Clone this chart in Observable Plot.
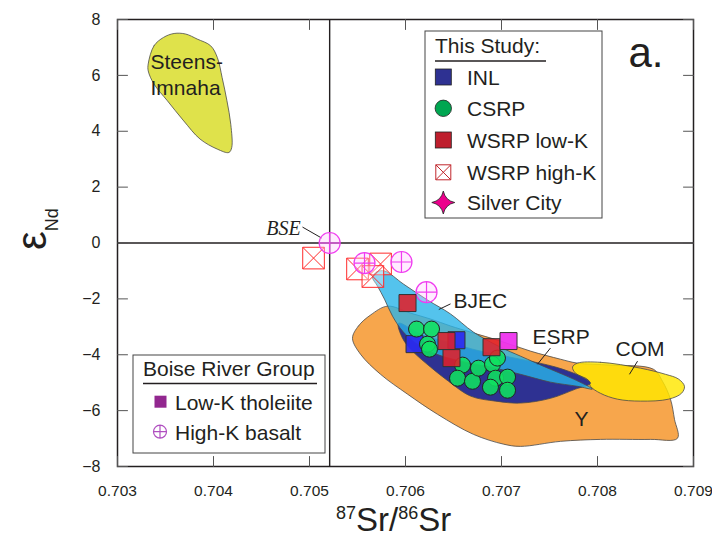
<!DOCTYPE html>
<html>
<head>
<meta charset="utf-8">
<script src="https://cdn.jsdelivr.net/npm/d3@7"></script>
<script src="https://cdn.jsdelivr.net/npm/@observablehq/plot@0.6"></script>
<style>
  body { margin: 0; background: #fff; }
  #chart { width: 712px; height: 538px; }
</style>
</head>
<body>
<div id="chart"></div>
<script>
const FONT = "'Liberation Sans', Arial, Helvetica, sans-serif";
const INK = "#231f20";

// Axis ticks
const xTicks = [0.703, 0.704, 0.705, 0.706, 0.707, 0.708, 0.709];
const yTicks = [-8, -6, -4, -2, 0, 2, 4, 6, 8];

// Bulk Silicate Earth reference (87Sr/86Sr, eNd)
const bse = [[0.70521, 0.0]];

// This study
const inl = [[0.706094, -3.62], [0.706531, -3.48]];
const csrp = [
  [0.706115, -3.08], [0.706271, -3.08], [0.706229, -3.62], [0.706250, -3.80],
  [0.706594, -4.37], [0.706542, -4.84], [0.706698, -4.95], [0.706760, -4.48],
  [0.706906, -4.34], [0.706958, -4.12], [0.706938, -4.84], [0.707063, -4.80],
  [0.706885, -5.16], [0.707063, -5.27]
];
const wsrpLowK = [[0.706021, -2.15], [0.706427, -3.51], [0.706479, -4.12], [0.706896, -3.73]];
const wsrpHighK = [[0.705042, -0.54], [0.705500, -0.93], [0.705740, -0.75], [0.705660, -1.20]];

// Boise River Group
const boiseLowK = [[0.707073, -3.51]];
const boiseHighK = [[0.705573, -0.72], [0.705958, -0.68], [0.706219, -1.76]];

// Compositional fields (outlines)
const fieldSteens = [
  [0.70332, 6.41], [0.70338, 7.06], [0.70348, 7.36], [0.70359, 7.50], [0.70371, 7.48],
  [0.70383, 7.30], [0.70397, 7.06], [0.70404, 6.64], [0.70409, 5.92], [0.70414, 5.09],
  [0.70418, 4.25], [0.70419, 3.42], [0.70416, 3.24], [0.70404, 3.36], [0.70386, 3.72],
  [0.70369, 4.37], [0.70352, 5.09], [0.70338, 5.69], [0.70332, 6.16]
];
const fieldY = [
  [0.705448, -3.41], [0.705510, -2.97], [0.705635, -2.58], [0.705813, -2.26],
  [0.706052, -2.51], [0.706260, -2.72], [0.706469, -2.97], [0.706677, -3.19],
  [0.706990, -3.51], [0.707302, -3.87], [0.707615, -4.16], [0.707792, -4.30],
  [0.708135, -4.37], [0.708583, -4.52], [0.708677, -4.95], [0.708760, -5.59],
  [0.708802, -6.31], [0.708833, -6.99], [0.708552, -7.03], [0.708031, -7.03],
  [0.707615, -7.10], [0.707198, -7.28], [0.707021, -7.20], [0.706708, -6.85],
  [0.706333, -6.13], [0.706021, -5.41], [0.705740, -4.70], [0.705531, -3.98]
];
const fieldCOM = [
  [0.707792, -4.30], [0.708031, -4.27], [0.708448, -4.48], [0.708708, -4.70],
  [0.708844, -4.87], [0.708906, -5.13], [0.708875, -5.38], [0.708740, -5.59],
  [0.708448, -5.66], [0.708208, -5.59], [0.708031, -5.38], [0.707927, -5.13],
  [0.707906, -4.91], [0.707771, -4.66], [0.707740, -4.44]
];
const fieldESRP = [
  [0.705927, -2.87], [0.706156, -3.26], [0.706469, -3.58], [0.706781, -3.87],
  [0.707198, -4.16], [0.707563, -4.44], [0.707823, -4.77], [0.707927, -5.02],
  [0.707771, -5.23], [0.707510, -5.56], [0.707198, -5.73], [0.706938, -5.66],
  [0.706677, -5.48], [0.706448, -4.95], [0.706260, -4.44], [0.706073, -3.87],
  [0.705969, -3.41]
];
const fieldBJEC = [
  [0.705656, -1.22], [0.705698, -1.04], [0.705781, -1.00], [0.705979, -1.47],
  [0.706229, -2.04], [0.706469, -2.54], [0.706708, -3.19], [0.706990, -3.73],
  [0.707198, -4.05], [0.707510, -4.52], [0.707750, -4.87], [0.707948, -5.23],
  [0.707792, -5.13], [0.707510, -4.98], [0.707198, -4.70], [0.706885, -4.44],
  [0.706573, -4.23], [0.706292, -3.94], [0.706104, -3.58], [0.705969, -3.15],
  [0.705865, -2.62], [0.705781, -2.01], [0.705708, -1.54]
];

// Field names (left-aligned), the centred "Y", the panel letter, and leader lines
const fieldLabels = [
  {text: "Steens-", x: 0.703344, y: 6.23},
  {text: "Imnaha", x: 0.703344, y: 5.30},
  {text: "BJEC", x: 0.706500, y: -2.33},
  {text: "ESRP", x: 0.707323, y: -3.62},
  {text: "COM", x: 0.708188, y: -4.05}
];
const centredLabels = [{text: "Y", x: 0.707833, y: -6.56}];
const panelLetter = [{text: "a.", x: 0.708323, y: 6.31}];
const leaders = [
  {x1: 0.704927, y1: 0.57, x2: 0.705125, y2: 0.18},
  {x1: 0.706469, y1: -2.18, x2: 0.706347, y2: -2.38},
  {x1: 0.707510, y1: -3.76, x2: 0.707375, y2: -4.34},
  {x1: 0.708417, y1: -4.23, x2: 0.708333, y2: -4.70}
];

const studyLegend = ["INL", "CSRP", "WSRP low-K", "WSRP high-K", "Silver City"];
const boiseLegend = ["Low-K tholeiite", "High-K basalt"];

// Custom symbols: square with diagonals, circle with a cross
const boxX = {
  draw(ctx, size) {
    const s = Math.sqrt(size) / 2;
    ctx.moveTo(-s, -s); ctx.lineTo(s, -s); ctx.lineTo(s, s); ctx.lineTo(-s, s); ctx.closePath();
    ctx.moveTo(-s, -s); ctx.lineTo(s, s);
    ctx.moveTo(s, -s); ctx.lineTo(-s, s);
  }
};
const crossCircle = {
  draw(ctx, size) {
    const r = Math.sqrt(size / Math.PI);
    ctx.moveTo(r, 0); ctx.arc(0, 0, r, 0, 2 * Math.PI);
    ctx.moveTo(-r, 0); ctx.lineTo(r, 0);
    ctx.moveTo(0, -r); ctx.lineTo(0, r);
  }
};
const tickShape = {draw(ctx, l) { ctx.moveTo(0, 0); ctx.lineTo(0, -l); }};

const field = (pts, fill, opacity = 1) =>
  Plot.line(pts, {x: d => d[0], y: d => d[1], curve: "catmull-rom-closed",
    fill, fillOpacity: opacity, stroke: "#4a4a4a", strokeWidth: 0.8});

const innerTicks = (data, opts) =>
  Plot.vector(data, {length: 10, anchor: "start", shape: tickShape, stroke: "#555", strokeWidth: 1, ...opts});

const chart = Plot.plot({
  width: 712,
  height: 538,
  marginLeft: 117,
  marginRight: 19,
  marginTop: 19,
  marginBottom: 72,
  x: {domain: [0.703, 0.709]},
  y: {domain: [-8, 8]},
  style: {fontFamily: FONT, fontSize: "16px", color: INK, background: "#fff"},
  marks: [
    field(fieldY, "#f7a64c"),
    field(fieldCOM, "#ffe600", 0.82),
    field(fieldESRP, "#2e3192"),
    field(fieldBJEC, "#29b4e8", 0.8),
    field(fieldSteens, "#dfe24b"),
    Plot.ruleX(bse, {x: d => d[0], stroke: INK, strokeWidth: 1.4}),
    Plot.ruleY(bse, {y: d => d[1], stroke: INK, strokeWidth: 1.4}),
    Plot.link(leaders, {x1: "x1", y1: "y1", x2: "x2", y2: "y2", stroke: INK, strokeWidth: 1}),
    Plot.text(fieldLabels, {x: "x", y: "y", text: "text", textAnchor: "start", lineAnchor: "bottom",
      fontSize: 21, fill: INK}),
    Plot.text(centredLabels, {x: "x", y: "y", text: "text", textAnchor: "middle", lineAnchor: "bottom",
      fontSize: 21, fill: INK}),
    Plot.text(panelLetter, {x: "x", y: "y", text: "text", textAnchor: "start", lineAnchor: "bottom",
      fontSize: 42, fill: INK}),
    Plot.text(bse, {x: d => d[0] - 0.000302, y: d => d[1] + 0.29, text: () => "BSE", textAnchor: "end",
      lineAnchor: "bottom", fontFamily: "'Liberation Serif', 'Times New Roman', serif", fontStyle: "italic",
      fontSize: 20, fill: INK}),
    // data points
    Plot.dot(wsrpHighK, {x: d => d[0], y: d => d[1], symbol: boxX, r: 12.2,
      fill: "#fff", fillOpacity: 0.35, stroke: "#ff2a2a", strokeWidth: 1}),
    Plot.dot(boiseHighK, {x: d => d[0], y: d => d[1], symbol: crossCircle, r: 10.5,
      fill: "#ffc8ff", fillOpacity: 0.35, stroke: "#f03cf0", strokeWidth: 1.2}),
    Plot.dot(bse, {x: d => d[0], y: d => d[1], symbol: crossCircle, r: 10.5,
      fill: "#ffc8ff", fillOpacity: 0.35, stroke: "#f03cf0", strokeWidth: 1.2}),
    Plot.dot(inl, {x: d => d[0], y: d => d[1], symbol: "square", r: 9.6,
      fill: "#2a2af0", fillOpacity: 0.92, stroke: "#333", strokeWidth: 1}),
    Plot.dot(csrp, {x: d => d[0], y: d => d[1], r: 8,
      fill: "#10e060", fillOpacity: 0.88, stroke: "#222", strokeWidth: 1}),
    Plot.dot(wsrpLowK, {x: d => d[0], y: d => d[1], symbol: "square", r: 9.6,
      fill: "#e0202a", fillOpacity: 0.88, stroke: "#333", strokeWidth: 1}),
    Plot.dot(boiseLowK, {x: d => d[0], y: d => d[1], symbol: "square", r: 9.6,
      fill: "#ee33ee", fillOpacity: 0.95, stroke: "#333", strokeWidth: 1}),
    // frame, inward ticks and tick labels
    Plot.frame({stroke: INK, strokeWidth: 1.5}),
    innerTicks(xTicks, {x: d => d, y: -8, rotate: 0}),
    innerTicks(xTicks, {x: d => d, y: 8, rotate: 180}),
    innerTicks(yTicks, {x: 0.703, y: d => d, rotate: 90}),
    innerTicks(yTicks, {x: 0.709, y: d => d, rotate: -90}),
    Plot.axisX({ticks: xTicks, tickSize: 0, tickPadding: 18, tickFormat: d3.format(".3f"), label: null, fontSize: 15.5}),
    Plot.axisY({ticks: yTicks, tickSize: 0, tickPadding: 17, label: null, fontSize: 16})
  ]
});

document.getElementById("chart").appendChild(chart);

// Axis titles and legends
const svg = d3.select(chart);
const ann = svg.append("g").attr("font-family", FONT).attr("fill", INK).attr("text-anchor", "start");

const xt = ann.append("text").attr("x", 336).attr("y", 531);
xt.append("tspan").attr("font-size", 18).attr("dy", -12).text("87");
xt.append("tspan").attr("font-size", 33).attr("dy", 12).text("Sr/");
xt.append("tspan").attr("font-size", 18).attr("dy", -12).text("86");
xt.append("tspan").attr("font-size", 33).attr("dy", 12).text("Sr");

const yt = ann.append("text").attr("transform", "translate(46,250) rotate(-90)");
yt.append("tspan").attr("font-size", 42).text("ε");
yt.append("tspan").attr("font-size", 18).attr("dy", 12).text("Nd");

// "This Study:" legend
const L1 = ann.append("g");
L1.append("rect").attr("x", 425).attr("y", 31).attr("width", 177).attr("height", 187)
  .attr("fill", "#fff").attr("stroke", "#444").attr("stroke-width", 1);
L1.append("text").attr("x", 435).attr("y", 53).attr("font-size", 21).text("This Study:");
L1.append("line").attr("x1", 435).attr("x2", 546).attr("y1", 61).attr("y2", 61)
  .attr("stroke", INK).attr("stroke-width", 1.5);
const rowY = [77, 108.3, 140, 172.3, 202.5];
const sx = 443.3;
studyLegend.forEach((name, i) => {
  L1.append("text").attr("x", 467).attr("y", rowY[i] + 7.5).attr("font-size", 21).text(name);
});
L1.append("rect").attr("x", sx - 8).attr("y", rowY[0] - 8).attr("width", 16).attr("height", 16)
  .attr("fill", "#2e3192").attr("stroke", "#222").attr("stroke-width", 0.8);
L1.append("circle").attr("cx", sx).attr("cy", rowY[1]).attr("r", 8.2)
  .attr("fill", "#00a651").attr("stroke", "#222").attr("stroke-width", 0.8);
L1.append("rect").attr("x", sx - 8).attr("y", rowY[2] - 8).attr("width", 16).attr("height", 16)
  .attr("fill", "#be1e2d").attr("stroke", "#222").attr("stroke-width", 0.8);
L1.append("path").attr("transform", `translate(${sx},${rowY[3]})`)
  .attr("d", "M-7.5,-7.5H7.5V7.5H-7.5Z M-7.5,-7.5L7.5,7.5 M7.5,-7.5L-7.5,7.5")
  .attr("fill", "#fff").attr("stroke", "#c1272d").attr("stroke-width", 1);
L1.append("path").attr("transform", `translate(${sx},${rowY[4]})`)
  .attr("d", "M0,-11.5 Q2,-2 11.5,0 Q2,2 0,11.5 Q-2,2 -11.5,0 Q-2,-2 0,-11.5Z")
  .attr("fill", "#ec008c").attr("stroke", "#222").attr("stroke-width", 0.8);

// "Boise River Group" legend
const L2 = ann.append("g");
L2.append("rect").attr("x", 133).attr("y", 355).attr("width", 192).attr("height", 98)
  .attr("fill", "#fff").attr("stroke", "#444").attr("stroke-width", 1);
L2.append("text").attr("x", 143).attr("y", 376).attr("font-size", 21).text("Boise River Group");
L2.append("line").attr("x1", 143).attr("x2", 317).attr("y1", 383.5).attr("y2", 383.5)
  .attr("stroke", INK).attr("stroke-width", 1.5);
const rowY2 = [401.7, 431.7];
boiseLegend.forEach((name, i) => {
  L2.append("text").attr("x", 175).attr("y", rowY2[i] + 8).attr("font-size", 21).text(name);
});
L2.append("rect").attr("x", 154.5).attr("y", rowY2[0] - 6).attr("width", 12).attr("height", 12)
  .attr("fill", "#92278f");
L2.append("path").attr("transform", `translate(160,${rowY2[1]})`)
  .attr("d", "M6.5,0A6.5,6.5 0 1,1 -6.5,0A6.5,6.5 0 1,1 6.5,0Z M-6.5,0H6.5 M0,-6.5V6.5")
  .attr("fill", "none").attr("stroke", "#b04fc0").attr("stroke-width", 1.2);
</script>
</body>
</html>
